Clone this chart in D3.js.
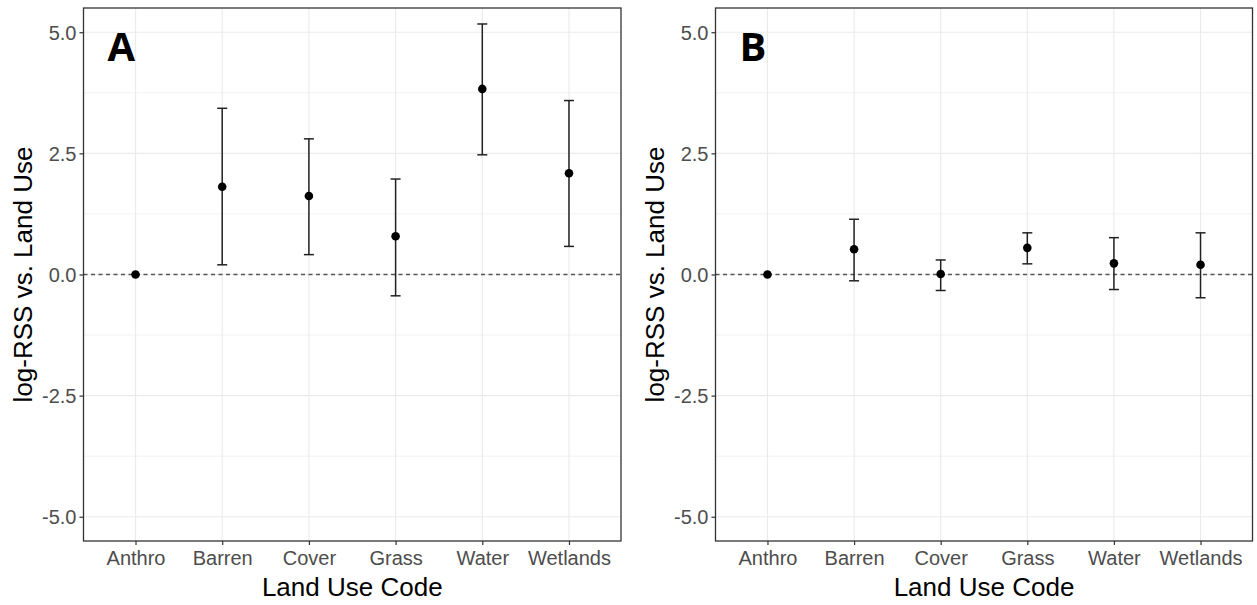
<!DOCTYPE html>
<meta charset="utf-8">
<html>
<head>
  <script src="https://d3js.org/d3.v7.min.js"></script>
  <style>
    body { margin: 0; background: #fff; font-family: "Liberation Sans", Arial, sans-serif; }
    .tick text { fill: #4d4d4d; font-size: 20px; font-family: "Liberation Sans", Arial, sans-serif; }
    .grid line { stroke: #ebebeb; }
    .title { font-family: "Liberation Sans", Arial, sans-serif; font-size: 26px; fill: #000; }
  </style>
</head>
<body>
  <script>
    // categories shared by both panels
    var codes = ["Anthro", "Barren", "Cover", "Grass", "Water", "Wetlands"];
    var yTicks = [-5.0, -2.5, 0.0, 2.5, 5.0];
    var yMinor = [-3.75, -1.25, 1.25, 3.75];

    // panel A estimates and interval ends
    var estA = [0, 1.81, 1.62, 0.79, 3.83, 2.09];
    var lowA = [0, 0.20, 0.41, -0.44, 2.47, 0.58];
    var highA = [0, 3.43, 2.80, 1.97, 5.17, 3.59];

    // panel B
    var estB = [0, 0.52, 0.01, 0.55, 0.23, 0.20];
    var lowB = [0, -0.13, -0.33, 0.22, -0.31, -0.48];
    var highB = [0, 1.14, 0.30, 0.86, 0.76, 0.86];

    var W = 1257, H = 605;
    var svg = d3.select("body").append("svg")
      .attr("width", W).attr("height", H);

    // ggplot style labels use a plain hyphen for the minus sign
    var fmt = function (d) { return d.toFixed(1); };

    function panel(left, right, letter, est, low, high) {
      var top = 8, bottom = 541;

      var x = d3.scalePoint().domain(codes)
        .range([left, right]).padding(0.6);
      var y = d3.scaleLinear().domain([-5.5, 5.5]).range([bottom, top]);

      var g = svg.append("g");

      // minor grid
      g.append("g").attr("class", "grid")
        .selectAll("line").data(yMinor).join("line")
        .attr("x1", left).attr("x2", right)
        .attr("y1", d => y(d)).attr("y2", d => y(d))
        .style("stroke", "#f2f2f2").style("stroke-width", 1);

      // major grid
      g.append("g").attr("class", "grid")
        .selectAll("line").data(yTicks).join("line")
        .attr("x1", left).attr("x2", right)
        .attr("y1", d => y(d)).attr("y2", d => y(d))
        .style("stroke-width", 1.2);
      g.append("g").attr("class", "grid")
        .selectAll("line").data(codes).join("line")
        .attr("x1", d => x(d)).attr("x2", d => x(d))
        .attr("y1", top).attr("y2", bottom)
        .style("stroke-width", 1.2);

      // reference line at zero
      g.append("line")
        .attr("x1", left).attr("x2", right)
        .attr("y1", y(0)).attr("y2", y(0))
        .style("stroke", "#555").style("stroke-width", 1.5)
        .style("stroke-dasharray", "4,3.5");

      // error bars
      var bars = g.append("g").selectAll("g")
        .data(codes.map(function (c, i) {
          return { code: c, est: est[i], low: low[i], high: high[i] };
        }))
        .join("g");

      bars.filter(d => d.high !== d.low).each(function (d) {
        var b = d3.select(this);
        var cx = x(d.code);
        b.append("line")
          .attr("x1", cx).attr("x2", cx)
          .attr("y1", y(d.low)).attr("y2", y(d.high));
        b.append("line")
          .attr("x1", cx - 5).attr("x2", cx + 5)
          .attr("y1", y(d.low)).attr("y2", y(d.low));
        b.append("line")
          .attr("x1", cx - 5).attr("x2", cx + 5)
          .attr("y1", y(d.high)).attr("y2", y(d.high));
      });
      bars.selectAll("line").style("stroke", "#222").style("stroke-width", 1.5);

      bars.append("circle")
        .attr("cx", d => x(d.code))
        .attr("cy", d => y(d.est))
        .attr("r", 4.3)
        .style("fill", "#000");

      // axes
      var yAxis = g.append("g")
        .attr("transform", "translate(" + left + ",0)")
        .call(d3.axisLeft(y).tickValues(yTicks).tickSize(4).tickPadding(3)
          .tickFormat(fmt));
      yAxis.select(".domain").remove();
      yAxis.selectAll(".tick line").style("stroke", "#333").style("stroke-width", 1.2);
      yAxis.selectAll(".tick text").attr("dy", "0.36em");

      var xAxis = g.append("g")
        .attr("transform", "translate(0," + bottom + ")")
        .call(d3.axisBottom(x).tickSize(4).tickPadding(6));
      xAxis.select(".domain").remove();
      xAxis.selectAll(".tick line").style("stroke", "#333").style("stroke-width", 1.2);

      // panel border
      g.append("rect")
        .attr("x", left).attr("y", top)
        .attr("width", right - left).attr("height", bottom - top)
        .style("fill", "none").style("stroke", "#333").style("stroke-width", 1.3);

      // titles
      g.append("text").attr("class", "title")
        .attr("x", (left + right) / 2).attr("y", 596)
        .attr("text-anchor", "middle")
        .text("Land Use Code");

      g.append("text").attr("class", "title")
        .attr("transform", "translate(" + (left - 52) + "," + ((top + bottom) / 2) + ") rotate(-90)")
        .attr("text-anchor", "middle")
        .text("log-RSS vs. Land Use");

      g.append("text")
        .attr("x", left + 24).attr("y", 61)
        .style("font-size", "40px").style("font-weight", "bold")
        .style("font-family", "'Open Sans', 'DejaVu Sans', sans-serif")
        .style("fill", "#000")
        .text(letter);
    }

    panel(83.5, 621, "A", estA, lowA, highA);
    panel(715.5, 1252.5, "B", estB, lowB, highB);
  </script>
</body>
</html>
